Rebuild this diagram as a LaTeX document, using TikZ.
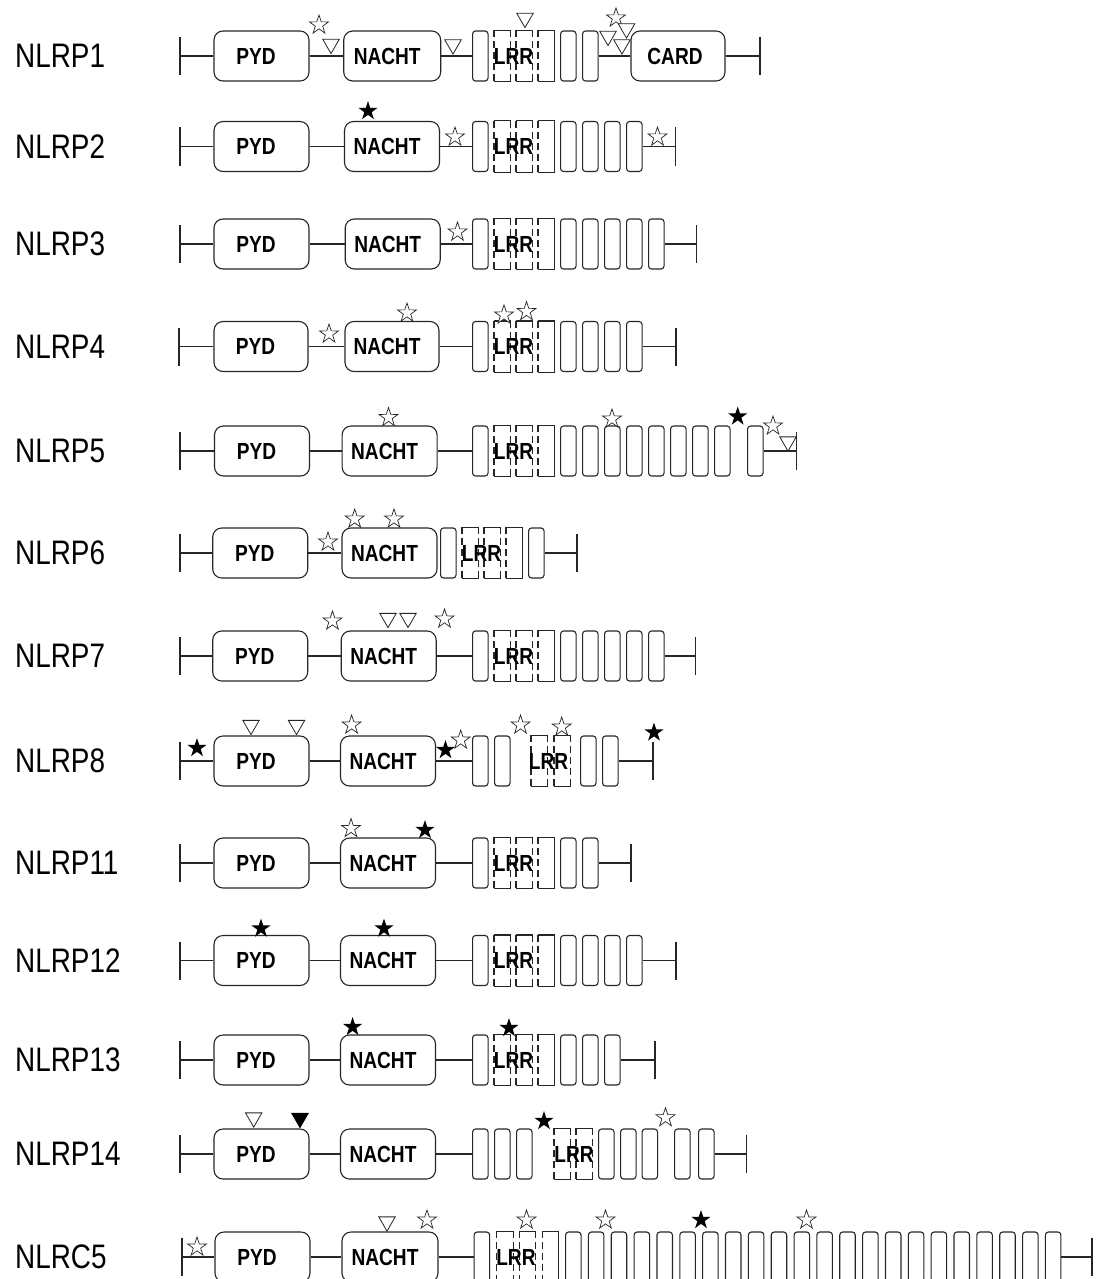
\documentclass[tikz,border=0pt]{standalone}
\usepackage{fontspec}
\setmainfont{Liberation Sans}
\newfontfamily\narrowfont[FakeStretch=0.82]{Liberation Sans}
\usetikzlibrary{shapes.geometric}
\tikzset{
 x=1pt, y=-1pt,
 ln/.style={line width=1.1pt, draw=black!85},
 dom/.style={draw=black!85, line width=1.1pt, rounded corners=9pt, minimum height=50pt, inner sep=0pt},
 seg/.style={draw=black!85, line width=1.1pt, rounded corners=3pt, minimum height=50pt, minimum width=15.5pt, inner sep=0pt},
 segline/.style={line width=1.1pt, draw=black!85},
 dsh/.style={dash pattern=on 7pt off 4pt},
 dtxt/.style={font=\narrowfont\bfseries\fontsize{23.3}{26}\selectfont, inner sep=0pt},
 lbl/.style={font=\narrowfont\fontsize{34}{40}\selectfont, inner sep=0pt, anchor=west},
 ostar/.style={star, star points=5, star point ratio=2.6, minimum size=20pt, inner sep=0pt, draw=black!85, line width=0.7pt, fill=white, yshift=-1pt},
 fstar/.style={star, star points=5, star point ratio=2.6, minimum size=20pt, inner sep=0pt, fill=black, yshift=-1pt},
 otri/.style={regular polygon, regular polygon sides=3, shape border rotate=180, minimum size=19pt, inner sep=0pt, draw=black!85, line width=0.8pt, fill=white, yshift=2.4pt},
 ftri/.style={regular polygon, regular polygon sides=3, shape border rotate=180, minimum size=19pt, inner sep=0pt, draw=black, line width=0.8pt, fill=black, yshift=2.4pt},
}
% segment with individually styled vertical sides
\newcommand\lrrseg[5]{%
 \node[seg, draw=none, anchor=west] (#1) at (#2,#3) {};
 \draw[segline] (#1.north west) -- (#1.north east);
 \draw[segline] (#1.south west) -- (#1.south east);
 \draw[segline,#4] (#1.north west) -- (#1.south west);
 \draw[segline,#5] (#1.north east) -- (#1.south east);
}
% row of repeats: name, y, x0, pitch, count
\newcommand\segrow[5]{%
 \foreach \i in {1,...,#5}{%
   \pgfmathsetmacro\xx{#3+#4*(\i-1)}%
   \ifnum\i=2 \lrrseg{s#1-\i}{\xx}{#2}{dsh}{dsh}\else
   \ifnum\i=3 \lrrseg{s#1-\i}{\xx}{#2}{dsh}{dsh}\else
   \ifnum\i=4 \lrrseg{s#1-\i}{\xx}{#2}{dsh}{solid}\else
   \node[seg,anchor=west] (s#1-\i) at (\xx,#2) {};\fi\fi\fi
 }%
 \node[dtxt] (t#1) at ({#3+#4+19.5},#2) {LRR};%
}
\newcommand\rowbar[1]{\draw[ln] ([yshift=19pt]#1) -- ([yshift=-19pt]#1);}
\begin{document}
\begin{tikzpicture}
\useasboundingbox (0,0) rectangle (1099,1279);
\clip (0,0) rectangle (1099,1279);
\fill[white] (0,0) rectangle (1099,1279);

% ---------------- NLRP1
\node[lbl] (l1) at (15,56) {NLRP1};
\coordinate (b1l) at (180,56); \rowbar{b1l}
\node[dom, minimum width=95pt] (p1) at (261.5,56) {};
\node[dom, minimum width=97pt] (n1) at (392.2,56) {};
\segrow{1}{56}{472}{22}{6}
\node[dom, minimum width=94pt] (c1) at (678,56) {};
\coordinate (b1r) at (760,56); \rowbar{b1r}
\draw[ln] (b1l) -- (p1.west); \draw[ln] (p1.east) -- (n1.west);
\draw[ln] (n1.east) -- (s1-1.west); \draw[ln] (s1-6.east) -- (c1.west);
\draw[ln] (c1.east) -- (b1r);
\node[dtxt] at ([xshift=-5.5pt]p1.center) {PYD};
\node[dtxt] at ([xshift=-5pt]n1.center) {NACHT};
\node[dtxt] at ([xshift=-3pt]c1.center) {CARD};
\node[ostar] (m1a) at (319,24) {};
\node[otri] (m1b) at (331,46.5) {};
\node[otri] (m1c) at (453,47) {};
\node[otri] (m1d) at (525,20.5) {};
\node[ostar] (m1e) at (616,17) {};
\node[otri] (m1f) at (608,38.5) {};
\node[otri] (m1g) at (626.5,31) {};
\node[otri] (m1h) at (622,47) {};

% ---------------- NLRP2
\node[lbl] (l2) at (15,146.5) {NLRP2};
\coordinate (b2l) at (180,146.5); \rowbar{b2l}
\node[dom, minimum width=95pt] (p2) at (261.5,146.5) {};
\node[dom, minimum width=95pt] (n2) at (392,146.5) {};
\segrow{2}{146.5}{472}{22}{8}
\coordinate (b2r) at (675.3,146.5); \rowbar{b2r}
\draw[ln] (b2l) -- (p2.west); \draw[ln] (p2.east) -- (n2.west);
\draw[ln] (n2.east) -- (s2-1.west); \draw[ln] (s2-8.east) -- (b2r);
\node[dtxt] at ([xshift=-5.5pt]p2.center) {PYD};
\node[dtxt] at ([xshift=-5pt]n2.center) {NACHT};
\node[fstar] (m2a) at (368,110) {};
\node[ostar] (m2b) at (455,136) {};
\node[ostar] (m2c) at (657.5,136) {};

% ---------------- NLRP3
\node[lbl] (l3) at (15,244) {NLRP3};
\coordinate (b3l) at (180,244); \rowbar{b3l}
\node[dom, minimum width=95pt] (p3) at (261.5,244) {};
\node[dom, minimum width=95pt] (n3) at (392.7,244) {};
\segrow{3}{244}{472}{22}{9}
\coordinate (b3r) at (696.5,244); \rowbar{b3r}
\draw[ln] (b3l) -- (p3.west); \draw[ln] (p3.east) -- (n3.west);
\draw[ln] (n3.east) -- (s3-1.west); \draw[ln] (s3-9.east) -- (b3r);
\node[dtxt] at ([xshift=-5.5pt]p3.center) {PYD};
\node[dtxt] at ([xshift=-5pt]n3.center) {NACHT};
\node[ostar] (m3a) at (457.5,231) {};

% ---------------- NLRP4
\node[lbl] (l4) at (15,346.5) {NLRP4};
\coordinate (b4l) at (179,346.5); \rowbar{b4l}
\node[dom, minimum width=94pt] (p4) at (261,346.5) {};
\node[dom, minimum width=94pt] (n4) at (392,346.5) {};
\segrow{4}{346.5}{472}{22}{8}
\coordinate (b4r) at (676,346.5); \rowbar{b4r}
\draw[ln] (b4l) -- (p4.west); \draw[ln] (p4.east) -- (n4.west);
\draw[ln] (n4.east) -- (s4-1.west); \draw[ln] (s4-8.east) -- (b4r);
\node[dtxt] at ([xshift=-5.5pt]p4.center) {PYD};
\node[dtxt] at ([xshift=-5pt]n4.center) {NACHT};
\node[ostar] (m4a) at (329,333) {};
\node[ostar] (m4b) at (407,312) {};
\node[ostar] (m4c) at (504,314) {};
\node[ostar] (m4d) at (526.5,310.5) {};

% ---------------- NLRP5
\node[lbl] (l5) at (15,451) {NLRP5};
\coordinate (b5l) at (180,451); \rowbar{b5l}
\node[dom, minimum width=95pt] (p5) at (262,451) {};
\node[dom, minimum width=95pt] (n5) at (389.6,451) {};
\segrow{5}{451}{472}{22}{12}
\node[seg, anchor=west] (s5-13) at (747,451) {};
\coordinate (b5r) at (796.5,451); \rowbar{b5r}
\draw[ln] (b5l) -- (p5.west); \draw[ln] (p5.east) -- (n5.west);
\draw[ln] (n5.east) -- (s5-1.west); \draw[ln] (s5-13.east) -- (b5r);
\node[dtxt] at ([xshift=-5.5pt]p5.center) {PYD};
\node[dtxt] at ([xshift=-5pt]n5.center) {NACHT};
\node[ostar] (m5a) at (388.5,416.5) {};
\node[ostar] (m5b) at (612,418) {};
\node[fstar] (m5c) at (737.7,415.5) {};
\node[ostar] (m5d) at (773,425) {};
\node[otri] (m5e) at (788,444) {};

% ---------------- NLRP6
\node[lbl] (l6) at (15,553) {NLRP6};
\coordinate (b6l) at (180,553); \rowbar{b6l}
\node[dom, minimum width=95pt] (p6) at (260.2,553) {};
\node[dom, minimum width=95pt] (n6) at (389.5,553) {};
\segrow{6}{553}{440}{22}{5}
\coordinate (b6r) at (577,553); \rowbar{b6r}
\draw[ln] (b6l) -- (p6.west); \draw[ln] (p6.east) -- (n6.west);
\draw[ln] (s6-5.east) -- (b6r);
\node[dtxt] at ([xshift=-5.5pt]p6.center) {PYD};
\node[dtxt] at ([xshift=-5pt]n6.center) {NACHT};
\node[ostar] (m6a) at (328,541) {};
\node[ostar] (m6b) at (354.7,518) {};
\node[ostar] (m6c) at (394,518) {};

% ---------------- NLRP7
\node[lbl] (l7) at (15,656) {NLRP7};
\coordinate (b7l) at (180,656); \rowbar{b7l}
\node[dom, minimum width=95pt] (p7) at (260.2,656) {};
\node[dom, minimum width=95pt] (n7) at (388.7,656) {};
\segrow{7}{656}{472}{22}{9}
\coordinate (b7r) at (695.7,656); \rowbar{b7r}
\draw[ln] (b7l) -- (p7.west); \draw[ln] (p7.east) -- (n7.west);
\draw[ln] (n7.east) -- (s7-1.west); \draw[ln] (s7-9.east) -- (b7r);
\node[dtxt] at ([xshift=-5.5pt]p7.center) {PYD};
\node[dtxt] at ([xshift=-5pt]n7.center) {NACHT};
\node[ostar] (m7a) at (332.5,620) {};
\node[otri] (m7b) at (388,620.5) {};
\node[otri] (m7c) at (408,620.5) {};
\node[ostar] (m7d) at (444.5,618) {};

% ---------------- NLRP8
\node[lbl] (l8) at (15,761) {NLRP8};
\coordinate (b8l) at (180,761); \rowbar{b8l}
\node[dom, minimum width=95pt] (p8) at (261.5,761) {};
\node[dom, minimum width=95pt] (n8) at (388,761) {};
\node[seg, anchor=west] (s8-1) at (472,761) {};
\node[seg, anchor=west] (s8-2) at (494,761) {};
\lrrseg{s8-3}{531}{761}{dsh}{dsh}
\lrrseg{s8-4}{554}{761}{dsh}{dsh}
\node[seg, anchor=west] (s8-5) at (580,761) {};
\node[seg, anchor=west] (s8-6) at (602,761) {};
\node[dtxt] (t8) at (548.6,761) {LRR};
\coordinate (b8r) at (653,761); \rowbar{b8r}
\draw[ln] (b8l) -- (p8.west); \draw[ln] (p8.east) -- (n8.west);
\draw[ln] (n8.east) -- (s8-1.west); \draw[ln] (s8-6.east) -- (b8r);
\node[dtxt] at ([xshift=-5.5pt]p8.center) {PYD};
\node[dtxt] at ([xshift=-5pt]n8.center) {NACHT};
\node[fstar] (m8a) at (197,747) {};
\node[otri] (m8b) at (251,727.5) {};
\node[otri] (m8c) at (296.5,727.5) {};
\node[ostar] (m8d) at (351.6,724) {};
\node[fstar] (m8e) at (445.5,749) {};
\node[ostar] (m8f) at (460.7,739) {};
\node[ostar] (m8g) at (520.5,724) {};
\node[ostar] (m8h) at (561.7,726) {};
\node[fstar] (m8i) at (654,731.5) {};

% ---------------- NLRP11
\node[lbl] (l9) at (15,863) {NLRP11};
\coordinate (b9l) at (180,863); \rowbar{b9l}
\node[dom, minimum width=95pt] (p9) at (261.5,863) {};
\node[dom, minimum width=95pt] (n9) at (388,863) {};
\segrow{9}{863}{472}{22}{6}
\coordinate (b9r) at (631,863); \rowbar{b9r}
\draw[ln] (b9l) -- (p9.west); \draw[ln] (p9.east) -- (n9.west);
\draw[ln] (n9.east) -- (s9-1.west); \draw[ln] (s9-6.east) -- (b9r);
\node[dtxt] at ([xshift=-5.5pt]p9.center) {PYD};
\node[dtxt] at ([xshift=-5pt]n9.center) {NACHT};
\node[ostar] (m9a) at (351,827.5) {};
\node[fstar] (m9b) at (425,829) {};

% ---------------- NLRP12
\node[lbl] (l10) at (15,960.5) {NLRP12};
\coordinate (b10l) at (180,960.5); \rowbar{b10l}
\node[dom, minimum width=95pt] (p10) at (261.5,960.5) {};
\node[dom, minimum width=95pt] (n10) at (388,960.5) {};
\segrow{10}{960.5}{472}{22}{8}
\coordinate (b10r) at (676,960.5); \rowbar{b10r}
\draw[ln] (b10l) -- (p10.west); \draw[ln] (p10.east) -- (n10.west);
\draw[ln] (n10.east) -- (s10-1.west); \draw[ln] (s10-8.east) -- (b10r);
\node[dtxt] at ([xshift=-5.5pt]p10.center) {PYD};
\node[dtxt] at ([xshift=-5pt]n10.center) {NACHT};
\node[fstar] (m10a) at (261,927.5) {};
\node[fstar] (m10b) at (384,927.5) {};

% ---------------- NLRP13
\node[lbl] (l11) at (15,1060) {NLRP13};
\coordinate (b11l) at (180,1060); \rowbar{b11l}
\node[dom, minimum width=95pt] (p11) at (261.5,1060) {};
\node[dom, minimum width=95pt] (n11) at (388,1060) {};
\segrow{11}{1060}{472}{22}{7}
\coordinate (b11r) at (655,1060); \rowbar{b11r}
\draw[ln] (b11l) -- (p11.west); \draw[ln] (p11.east) -- (n11.west);
\draw[ln] (n11.east) -- (s11-1.west); \draw[ln] (s11-7.east) -- (b11r);
\node[dtxt] at ([xshift=-5.5pt]p11.center) {PYD};
\node[dtxt] at ([xshift=-5pt]n11.center) {NACHT};
\node[fstar] (m11a) at (352.6,1026) {};
\node[fstar] (m11b) at (509,1027) {};

% ---------------- NLRP14
\node[lbl] (l12) at (15,1154) {NLRP14};
\coordinate (b12l) at (180,1154); \rowbar{b12l}
\node[dom, minimum width=95pt] (p12) at (261.5,1154) {};
\node[dom, minimum width=95pt] (n12) at (388,1154) {};
\node[seg, anchor=west] (s12-1) at (472,1154) {};
\node[seg, anchor=west] (s12-2) at (494,1154) {};
\node[seg, anchor=west] (s12-3) at (516,1154) {};
\lrrseg{s12-4}{554}{1154}{dsh}{dsh}
\lrrseg{s12-5}{576}{1154}{dsh}{dsh}
\node[seg, anchor=west] (s12-6) at (598,1154) {};
\node[seg, anchor=west] (s12-7) at (620,1154) {};
\node[seg, anchor=west] (s12-8) at (641.5,1154) {};
\node[seg, anchor=west] (s12-9) at (674,1154) {};
\node[seg, anchor=west] (s12-10) at (698,1154) {};
\node[dtxt] (t12) at (574,1154) {LRR};
\coordinate (b12r) at (746.7,1154); \rowbar{b12r}
\draw[ln] (b12l) -- (p12.west); \draw[ln] (p12.east) -- (n12.west);
\draw[ln] (n12.east) -- (s12-1.west); \draw[ln] (s12-10.east) -- (b12r);
\node[dtxt] at ([xshift=-5.5pt]p12.center) {PYD};
\node[dtxt] at ([xshift=-5pt]n12.center) {NACHT};
\node[otri] (m12a) at (253.7,1120) {};
\node[ftri] (m12b) at (300,1120.5) {};
\node[fstar] (m12c) at (544,1120) {};
\node[ostar] (m12d) at (665.5,1116.7) {};

% ---------------- NLRC5
\node[lbl] (l13) at (15,1257) {NLRC5};
\coordinate (b13l) at (182,1257); \rowbar{b13l}
\node[dom, minimum width=95pt] (p13) at (262.5,1257) {};
\node[dom, minimum width=96pt] (n13) at (390,1257) {};
\segrow{13}{1257}{473.6}{22.85}{26}
\coordinate (b13r) at (1092,1257); \rowbar{b13r}
\draw[ln] (b13l) -- (p13.west); \draw[ln] (p13.east) -- (n13.west);
\draw[ln] (n13.east) -- (s13-1.west); \draw[ln] (s13-26.east) -- (b13r);
\node[dtxt] at ([xshift=-5.5pt]p13.center) {PYD};
\node[dtxt] at ([xshift=-5pt]n13.center) {NACHT};
\node[ostar] (m13a) at (197,1246) {};
\node[otri] (m13b) at (387,1224) {};
\node[ostar] (m13c) at (427,1219) {};
\node[ostar] (m13d) at (526.5,1219) {};
\node[ostar] (m13e) at (605.5,1219) {};
\node[fstar] (m13f) at (701,1219) {};
\node[ostar] (m13g) at (806.5,1219) {};
\end{tikzpicture}
\end{document}
